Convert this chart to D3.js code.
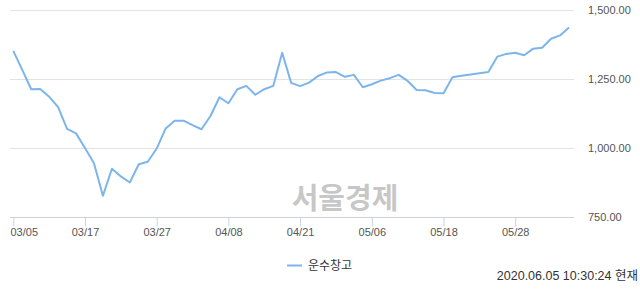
<!DOCTYPE html>
<html>
<head>
<meta charset="utf-8">
<script src="https://cdn.jsdelivr.net/npm/d3@7"></script>
<style>
  body { margin: 0; background: #fff; }
  svg { display: block; font-family: "Liberation Sans", "Noto Sans CJK KR", sans-serif; }
</style>
</head>
<body>
<script>
// trading days 03/05 .. 06/05, labels every 8th point
const dates = ["03/05","03/06","03/09","03/10","03/11","03/12","03/13","03/16",
  "03/17","03/18","03/19","03/20","03/23","03/24","03/25","03/26",
  "03/27","03/30","03/31","04/01","04/02","04/03","04/06","04/07",
  "04/08","04/09","04/10","04/13","04/14","04/16","04/17","04/20",
  "04/21","04/22","04/23","04/24","04/27","04/28","04/29","05/04",
  "05/06","05/07","05/08","05/11","05/12","05/13","05/14","05/15",
  "05/18","05/19","05/20","05/21","05/22","05/25","05/26","05/27",
  "05/28","05/29","06/01","06/02","06/03","06/04","06/05"];

const values = [1352, 1283, 1213, 1214, 1186, 1148, 1069, 1053,
  1000, 945, 827, 925, 897, 875, 941, 950,
  998, 1071, 1099, 1099, 1083, 1068, 1116, 1184,
  1162, 1213, 1225, 1193, 1213, 1225, 1345, 1236,
  1224, 1237, 1261, 1274, 1275, 1258, 1265, 1220,
  1231, 1244, 1253, 1265, 1243, 1210, 1209, 1199,
  1198, 1256, 1262, 1266, 1271, 1275, 1331, 1341,
  1345, 1336, 1360, 1363, 1396, 1408, 1437];

const xTickLabels = ["03/05","03/17","03/27","04/08","04/21","05/06","05/18","05/28"];
const yTicks = [750, 1000, 1250, 1500];
const seriesName = "운수창고";
const stamp = "2020.06.05 10:30:24 현재";

const W = 640, H = 294;
const plot = {left: 10, right: 574, top: 10, bottom: 217};

const svg = d3.select("body").append("svg")
  .attr("width", W)
  .attr("height", H);

const x = d3.scalePoint()
  .domain(dates)
  .range([13.3, 569]);

const y = d3.scaleLinear()
  .domain([750, 1500])
  .range([plot.bottom, plot.top]);

// grid
svg.append("g")
  .selectAll("line")
  .data(yTicks.filter(d => d !== 750))
  .enter().append("line")
  .attr("x1", plot.left)
  .attr("x2", plot.right)
  .attr("y1", d => Math.round(y(d)) + 0.5)
  .attr("y2", d => Math.round(y(d)) + 0.5)
  .attr("stroke", "#e3e3e3");

// y labels on the right
svg.append("g")
  .selectAll("text")
  .data(yTicks)
  .enter().append("text")
  .attr("x", 588)
  .attr("y", d => y(d))
  .attr("dy", "0.35em")
  .attr("font-size", 11)
  .attr("fill", "#555")
  .text(d => d3.format(",.2f")(d));

// watermark
svg.append("text")
  .attr("x", 345)
  .attr("y", 209)
  .attr("text-anchor", "middle")
  .attr("font-family", "Noto Sans CJK KR")
  .attr("font-weight", "bold")
  .attr("font-size", 29)
  .attr("fill", "#bdbdbd")
  .attr("fill-opacity", 0.85)
  .text("서울경제");

// x axis
const xAxis = svg.append("g")
  .attr("transform", "translate(0," + (plot.bottom + 0.5) + ")")
  .call(d3.axisBottom(x).tickValues(xTickLabels).tickSize(9).tickPadding(2).tickSizeOuter(0));
xAxis.select(".domain").remove();
xAxis.append("line")
  .attr("x1", plot.left).attr("x2", plot.right)
  .attr("stroke", "#c9d3e3");
xAxis.selectAll(".tick line").attr("stroke", "#c9d3e3");
xAxis.selectAll(".tick text")
  .attr("font-size", 11)
  .attr("font-family", "Liberation Sans")
  .attr("fill", "#555");
// first label is pushed inside the plot edge
xAxis.selectAll(".tick text")
  .filter(d => d === xTickLabels[0])
  .attr("text-anchor", "start")
  .attr("x", plot.left - x(xTickLabels[0]));

// series line
const line = d3.line()
  .x((d, i) => x(dates[i]))
  .y(d => y(d));

svg.append("path")
  .datum(values)
  .attr("fill", "none")
  .attr("stroke", "#7cb5ec")
  .attr("stroke-width", 2)
  .attr("stroke-linejoin", "round")
  .attr("d", line);

// legend
svg.append("line")
  .attr("x1", 287).attr("x2", 302)
  .attr("y1", 265.5).attr("y2", 265.5)
  .attr("stroke", "#7cb5ec")
  .attr("stroke-width", 2);
svg.append("text")
  .attr("x", 308)
  .attr("y", 266)
  .attr("dy", "0.35em")
  .attr("font-size", 12)
  .attr("font-family", "Noto Sans CJK KR")
  .attr("fill", "#333")
  .text(seriesName);

// timestamp
svg.append("text")
  .attr("x", 638)
  .attr("y", 276)
  .attr("dy", "0.35em")
  .attr("text-anchor", "end")
  .attr("font-size", 12.5)
  .attr("fill", "#333")
  .text(stamp);
</script>
</body>
</html>
